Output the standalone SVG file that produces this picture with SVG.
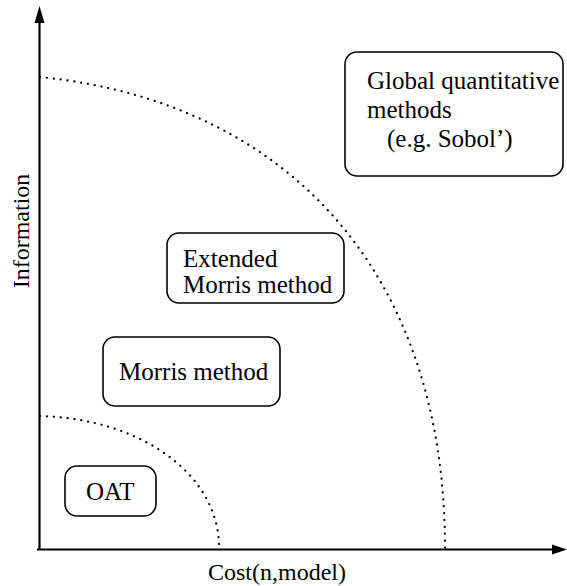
<svg xmlns="http://www.w3.org/2000/svg" width="567" height="586" viewBox="0 0 567 586">
  <style>
    .box { fill: #ffffff; stroke: #000000; stroke-width: 1.6; }
    .lbl { font-family: "Liberation Serif", "Times New Roman", serif; font-size: 24px; fill: #000000; }
    .big { font-size: 25px; }
    .axis { stroke: #000000; stroke-width: 2.2; fill: none; }
    .dots { stroke: #000000; stroke-width: 2.2; fill: none; stroke-linecap: round; stroke-dasharray: 0.1 6.8; }
  </style>
  <rect width="567" height="586" fill="#ffffff"/>
  <g id="connectors">
    <path class="dots" d="M40,77 C290,102 445,275 445,548"/>
    <path class="dots" d="M40,416 C145,419 219,477 219,547"/>
    <line class="axis" x1="39.5" y1="549.5" x2="39.5" y2="20"/>
    <polygon points="39.5,6 34.5,23 44.5,23" fill="#000000"/>
    <line class="axis" x1="37" y1="549.5" x2="555" y2="549.5"/>
    <polygon points="567,549.5 552,544.5 552,554.5" fill="#000000"/>
  </g>
  <g id="axis-y-label">
    <text class="lbl" transform="translate(29,231) rotate(-90)" text-anchor="middle">Information</text>
  </g>
  <g id="axis-x-label">
    <text class="lbl" x="208" y="580">Cost(n,model)</text>
  </g>
  <g id="global">
    <rect class="box" x="345" y="52" width="218" height="124" rx="12" ry="12"/>
    <text class="lbl big" x="367" y="89">Global quantitative</text>
    <text class="lbl big" x="367" y="118">methods</text>
    <text class="lbl big" x="387" y="147">(e.g. Sobol’)</text>
  </g>
  <g id="extended">
    <rect class="box" x="167" y="233" width="177" height="70" rx="12" ry="12"/>
    <text class="lbl big" x="183" y="267">Extended</text>
    <text class="lbl big" x="183" y="293">Morris method</text>
  </g>
  <g id="morris">
    <rect class="box" x="103" y="337" width="177" height="69" rx="12" ry="12"/>
    <text class="lbl big" x="119" y="380">Morris method</text>
  </g>
  <g id="oat">
    <rect class="box" x="65" y="466" width="91" height="50" rx="12" ry="12"/>
    <text class="lbl big" x="86" y="500">OAT</text>
  </g>
</svg>
